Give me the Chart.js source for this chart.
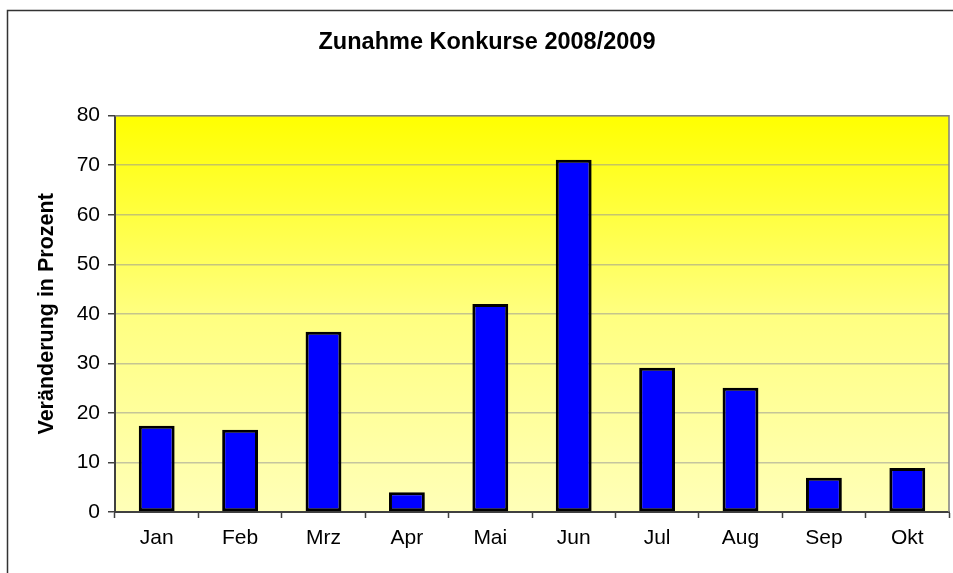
<!DOCTYPE html>
<html>
<head>
<meta charset="utf-8">
<script src="https://cdn.jsdelivr.net/npm/chart.js@4.4.1/dist/chart.umd.min.js"></script>
<style>
  html, body { margin: 0; padding: 0; background: #ffffff; }
  #wrap { width: 953px; height: 573px; position: relative; }
</style>
</head>
<body>
<div id="wrap"><canvas id="c" width="953" height="573"></canvas></div>
<script>
const chartTitle = 'Zunahme Konkurse 2008/2009';
const yAxisTitle = 'Veränderung in Prozent';
const categories = ['Jan', 'Feb', 'Mrz', 'Apr', 'Mai', 'Jun', 'Jul', 'Aug', 'Sep', 'Okt'];
const changePercent = [17.4, 16.6, 36.4, 4.0, 42.0, 71.1, 29.1, 25.1, 6.9, 8.9];
const yMin = 0;
const yMax = 80;
const yStep = 10;

const FONT = "'Liberation Sans', Arial, sans-serif";

const framePlugin = {
  id: 'frame',
  beforeDraw(chart) {
    const ctx = chart.ctx;
    const a = chart.chartArea;
    ctx.save();
    ctx.strokeStyle = '#333333';
    ctx.lineWidth = 1.5;
    ctx.beginPath();
    ctx.moveTo(7.5, 573);
    ctx.lineTo(7.5, 10.5);
    ctx.lineTo(953, 10.5);
    ctx.stroke();
    const g = ctx.createLinearGradient(0, a.top, 0, a.bottom);
    g.addColorStop(0, '#FFFF00');
    g.addColorStop(0.5, '#FFFF80');
    g.addColorStop(1, '#FFFFB8');
    ctx.fillStyle = g;
    ctx.fillRect(a.left, a.top, a.right - a.left, a.bottom - a.top);
    ctx.restore();
  },
  afterDatasetsDraw(chart) {
    const ctx = chart.ctx;
    const a = chart.chartArea;
    ctx.save();
    ctx.strokeStyle = '#808080';
    ctx.lineWidth = 1.5;
    ctx.beginPath();
    ctx.moveTo(a.left, a.top);
    ctx.lineTo(a.right, a.top);
    ctx.lineTo(a.right, a.bottom);
    ctx.stroke();
    ctx.restore();
  }
};

new Chart(document.getElementById('c'), {
  type: 'bar',
  data: {
    labels: categories,
    datasets: [{
      data: changePercent,
      backgroundColor: '#0000FF',
      borderColor: '#000000',
      borderWidth: 3,
      borderSkipped: false,
      categoryPercentage: 1.0,
      barPercentage: 0.43
    }]
  },
  options: {
    responsive: false,
    animation: false,
    devicePixelRatio: 1,
    layout: { padding: { left: 25, right: 4, top: 0, bottom: 0 } },
    plugins: {
      legend: { display: false },
      tooltip: { enabled: false },
      title: {
        display: true,
        text: chartTitle,
        color: '#000000',
        font: { family: FONT, size: 23.5, weight: 'bold', lineHeight: 1.2 },
        padding: { top: 28, bottom: 59.5 }
      }
    },
    scales: {
      x: {
        grid: {
          display: true,
          drawOnChartArea: false,
          drawTicks: true,
          tickLength: 6,
          tickColor: '#404040',
          tickWidth: 1.5,
          offset: true
        },
        border: { display: true, color: '#404040', width: 2 },
        ticks: {
          color: '#000000',
          font: { family: FONT, size: 21 },
          padding: 8,
          maxRotation: 0
        },
        afterFit(scale) { scale.height = 61; }
      },
      y: {
        min: yMin,
        max: yMax,
        ticks: {
          stepSize: yStep,
          color: '#000000',
          font: { family: FONT, size: 21 },
          padding: 8
        },
        grid: {
          color: 'rgba(150,150,150,0.55)',
          lineWidth: 1.5,
          tickColor: '#404040',
          tickLength: 7,
          tickWidth: 1.5
        },
        border: { display: true, color: '#404040', width: 2 },
        title: {
          display: true,
          text: yAxisTitle,
          color: '#000000',
          font: { family: FONT, size: 21.5, weight: 'bold', lineHeight: 1.2 },
          padding: { top: 9, bottom: 0 }
        },
        afterFit(scale) { scale.width = 90; }
      }
    }
  },
  plugins: [framePlugin]
});
</script>
</body>
</html>
